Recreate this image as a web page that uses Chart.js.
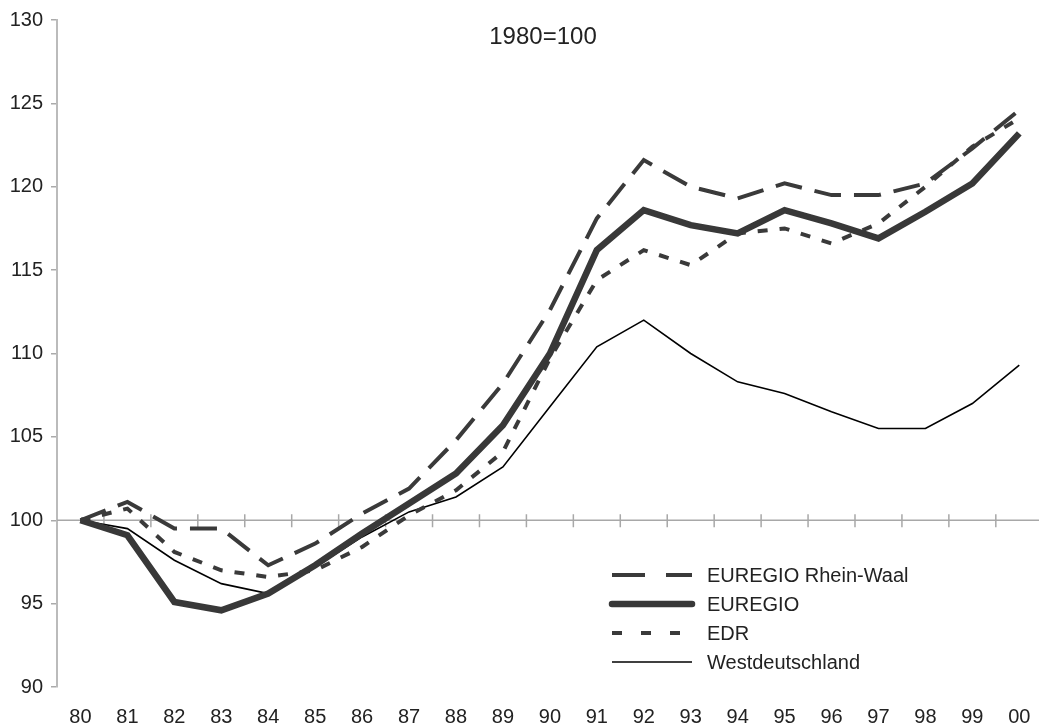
<!DOCTYPE html>
<html lang="de">
<head>
  <meta charset="UTF-8">
  <title>Beschäftigung 1980–2000 (1980=100)</title>
  <script src="https://cdn.jsdelivr.net/npm/chart.js"></script>
  <style>
    html, body { margin: 0; padding: 0; background: #fff; }
    #wrap { width: 1039px; height: 728px; position: relative; }
  </style>
</head>
<body>
  <div id="wrap"><canvas id="chart"></canvas></div>

  <script>
    // Jahre (Achsenbeschriftung) und Indexwerte, 1980 = 100
    const years = ['80', '81', '82', '83', '84', '85', '86', '87', '88', '89', '90',
                   '91', '92', '93', '94', '95', '96', '97', '98', '99', '00'];
    const rheinWaal = [100, 101.1, 99.5, 99.5, 97.3, 98.6, 100.4, 101.9, 104.8, 108.2, 112.6,
                       118.1, 121.6, 120.0, 119.3, 120.2, 119.5, 119.5, 120.2, 122.3, 124.6];
    const euregio = [100, 99.1, 95.1, 94.6, 95.6, 97.3, 99.2, 101.0, 102.8, 105.7, 110.0,
                     116.2, 118.6, 117.7, 117.2, 118.6, 117.8, 116.9, 118.5, 120.2, 123.2];
    const edr = [100, 100.7, 98.1, 97.0, 96.6, 97.0, 98.4, 100.3, 101.8, 104.1, 109.7,
                 114.4, 116.2, 115.3, 117.2, 117.5, 116.6, 117.8, 120.0, 122.4, 124.1];
    const west = [100, 99.5, 97.6, 96.2, 95.6, 97.2, 99.0, 100.5, 101.4, 103.2, 106.8,
                  110.4, 112.0, 110.0, 108.3, 107.6, 106.5, 105.5, 105.5, 107.0, 109.3];
    const yTicks = [90, 95, 100, 105, 110, 115, 120, 125, 130];
    const seriesNames = ['EUREGIO Rhein-Waal', 'EUREGIO', 'EDR', 'Westdeutschland'];
    const baseLabel = '1980=100';

    const toPoints = arr => arr.map((v, i) => ({ x: i, y: v }));

    Chart.defaults.font.family = '"Liberation Sans", Arial, sans-serif';
    Chart.defaults.font.size = 20;
    Chart.defaults.color = '#222';

    // Waagerechte Achse bei 100 mit Strichen zwischen den Jahren, Titel und Legende
    const extras = {
      id: 'extras',
      beforeDatasetsDraw(chart) {
        const { ctx, chartArea, scales } = chart;
        const y100 = scales.y.getPixelForValue(100);
        ctx.save();
        ctx.strokeStyle = '#a8a8a8';
        ctx.lineWidth = 1.5;
        ctx.beginPath();
        ctx.moveTo(chartArea.left, y100);
        ctx.lineTo(chart.width, y100);
        for (let i = 0; i < years.length - 1; i++) {
          const x = scales.x.getPixelForValue(i + 0.5);
          ctx.moveTo(x, y100 - 6);
          ctx.lineTo(x, y100 + 7);
        }
        ctx.stroke();
        ctx.restore();
      },
      afterDraw(chart) {
        const { ctx } = chart;
        ctx.save();
        ctx.fillStyle = '#222';
        ctx.font = '24px "Liberation Sans", Arial, sans-serif';
        ctx.textAlign = 'center';
        ctx.textBaseline = 'middle';
        ctx.fillText(baseLabel, 543, 37);

        ctx.font = '20px "Liberation Sans", Arial, sans-serif';
        ctx.textAlign = 'left';
        const rows = [575, 604, 633, 662];
        chart.data.datasets.forEach((ds, i) => {
          const y = rows[i];
          ctx.strokeStyle = ds.borderColor;
          ctx.lineWidth = ds.borderWidth;
          ctx.lineCap = i === 1 ? 'round' : 'butt';
          ctx.setLineDash(ds.legendDash || []);
          ctx.beginPath();
          ctx.moveTo(612, y);
          ctx.lineTo(692, y);
          ctx.stroke();
          ctx.setLineDash([]);
          ctx.fillText(ds.label, 707, y + 1);
        });
        ctx.restore();
      }
    };

    new Chart(document.getElementById('chart'), {
      type: 'line',
      data: {
        datasets: [
          {
            label: seriesNames[0],
            data: toPoints(rheinWaal),
            borderColor: '#3a3a3a',
            borderWidth: 4,
            borderDash: [27, 13],
            legendDash: [33, 21],
            pointRadius: 0,
            tension: 0
          },
          {
            label: seriesNames[1],
            data: toPoints(euregio),
            borderColor: '#383838',
            borderWidth: 6.5,
            pointRadius: 0,
            tension: 0
          },
          {
            label: seriesNames[2],
            data: toPoints(edr),
            borderColor: '#3a3a3a',
            borderWidth: 4,
            borderDash: [10, 12],
            legendDash: [10, 19],
            pointRadius: 0,
            tension: 0
          },
          {
            label: seriesNames[3],
            data: toPoints(west),
            borderColor: '#000',
            borderWidth: 1.6,
            pointRadius: 0,
            tension: 0
          }
        ]
      },
      options: {
        responsive: true,
        maintainAspectRatio: false,
        animation: false,
        layout: { padding: { top: 18, right: 0, bottom: 0, left: 0 } },
        plugins: {
          legend: { display: false },
          tooltip: { enabled: false }
        },
        scales: {
          x: {
            type: 'linear',
            min: -0.5,
            max: 20.42,
            afterBuildTicks: scale => { scale.ticks = years.map((_, i) => ({ value: i })); },
            afterFit: scale => {
              scale.height = 41;
              // Beschriftung am Rand nicht als Innenabstand werten
              scale.paddingLeft = 0;
              scale.paddingRight = 0;
            },
            grid: { display: false, drawTicks: false },
            border: { display: false },
            ticks: {
              autoSkip: false,
              maxRotation: 0,
              padding: 18,
              callback: v => years[v]
            }
          },
          y: {
            min: 90,
            max: 130,
            afterBuildTicks: scale => { scale.ticks = yTicks.map(v => ({ value: v })); },
            afterFit: scale => { scale.width = 57; },
            grid: { drawOnChartArea: false, drawTicks: true, tickLength: 6, color: '#aaa', lineWidth: 1.5 },
            border: { display: true, color: '#bbb', width: 2 },
            ticks: { padding: 8 }
          }
        }
      },
      plugins: [extras]
    });
  </script>
</body>
</html>
